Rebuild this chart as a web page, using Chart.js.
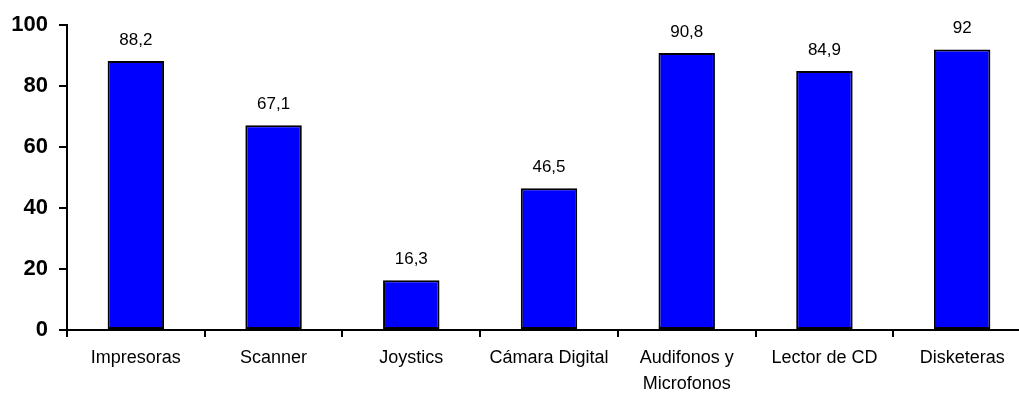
<!DOCTYPE html>
<html>
<head>
<meta charset="utf-8">
<script src="https://cdn.jsdelivr.net/npm/chart.js@4/dist/chart.umd.min.js"></script>
<style>
  html, body { margin: 0; padding: 0; background: #fff; overflow: hidden; }
  #wrap { width: 1032px; height: 394px; position: relative; }
</style>
</head>
<body>
<div id="wrap"><canvas id="c"></canvas></div>
<script>
const categories = ["Impresoras", "Scanner", "Joystics", "Cámara Digital", ["Audifonos y", "Microfonos"], "Lector de CD", "Disketeras"];
const values = [88.2, 67.1, 16.3, 46.5, 90.8, 84.9, 92];
const valueLabels = ["88,2", "67,1", "16,3", "46,5", "90,8", "84,9", "92"];
const yTicks = [0, 20, 40, 60, 80, 100];

const FONT = "'Liberation Sans', Arial, sans-serif";

const valueLabelPlugin = {
  id: 'valueLabels',
  afterDatasetsDraw(chart) {
    const ctx = chart.ctx;
    const meta = chart.getDatasetMeta(0);
    ctx.save();
    ctx.font = "17px " + FONT;
    ctx.fillStyle = "#000";
    ctx.textAlign = "center";
    ctx.textBaseline = "middle";
    meta.data.forEach((bar, i) => {
      ctx.fillText(valueLabels[i], bar.x, bar.y - 21);
    });
    ctx.restore();
  }
};

new Chart(document.getElementById('c'), {
  type: 'bar',
  data: {
    labels: categories,
    datasets: [{
      data: values,
      backgroundColor: '#0000FF',
      borderColor: '#000000',
      borderWidth: 2,
      borderSkipped: false,
      categoryPercentage: 1,
      barPercentage: 0.41
    }]
  },
  options: {
    responsive: true,
    maintainAspectRatio: false,
    animation: false,
    layout: { padding: { top: 25, right: 1, left: 0, bottom: 0 } },
    plugins: { legend: { display: false }, tooltip: { enabled: false } },
    scales: {
      x: {
        offset: true,
        grid: { offset: true, drawOnChartArea: false, drawTicks: true, tickLength: 7, color: '#000', lineWidth: 2 },
        border: { display: true, color: '#000', width: 2 },
        ticks: { color: '#000', font: { family: FONT, size: 18, lineHeight: 1.45 }, padding: 8, maxRotation: 0, autoSkip: false },
        afterFit(scale) { scale.height = 64; }
      },
      y: {
        min: 0, max: 100,
        afterBuildTicks(scale) { scale.ticks = yTicks.map(v => ({ value: v })); },
        grid: { drawOnChartArea: false, drawTicks: true, tickLength: 8, color: '#000', lineWidth: 2 },
        border: { display: true, color: '#000', width: 2 },
        ticks: { color: '#000', font: { family: FONT, size: 22, weight: 'bold' }, padding: 11 },
        afterFit(scale) { scale.width = 67; }
      }
    }
  },
  plugins: [valueLabelPlugin]
});
</script>
</body>
</html>
